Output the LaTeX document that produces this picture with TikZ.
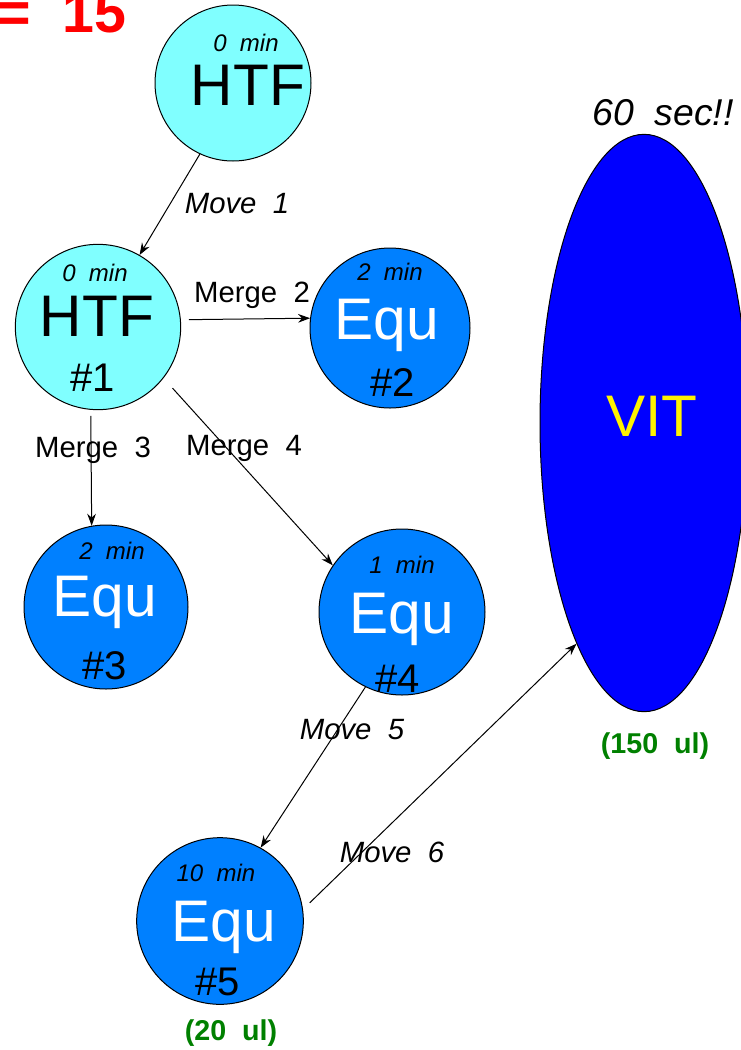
\documentclass[tikz,border=0pt]{standalone}
\usepackage{fontspec}
\setmainfont{Liberation Sans}
\usetikzlibrary{arrows.meta,shapes.geometric}
\definecolor{htfcyan}{RGB}{128,255,255}
\definecolor{equblue}{RGB}{0,128,255}
\definecolor{vitblue}{RGB}{0,0,255}
\definecolor{ulgreen}{RGB}{0,128,0}
\tikzset{
  htfball/.style={circle,draw,line width=0.75pt,fill=htfcyan,inner sep=0pt},
  equball/.style={circle,draw,line width=0.75pt,fill=equblue,inner sep=0pt},
  bigword/.style={anchor=base,inner sep=0pt,font=\fontsize{44pt}{44pt}\selectfont},
  numtag/.style={anchor=base,inner sep=0pt,font=\fontsize{30pt}{30pt}\selectfont},
  mintag/.style={anchor=base,inner sep=0pt,font=\fontsize{18pt}{18pt}\selectfont\itshape},
  steplbl/.style={anchor=base,inner sep=0pt,font=\fontsize{22pt}{22pt}\selectfont},
  movelbl/.style={steplbl,font=\fontsize{22pt}{22pt}\selectfont\itshape},
  vollbl/.style={anchor=base,inner sep=0pt,text=ulgreen,font=\fontsize{21.5pt}{21.5pt}\selectfont\bfseries},
}
\begin{document}
\begin{tikzpicture}[>={Stealth[length=9pt,width=6.5pt]},x=0.75pt,y=-0.75pt,line width=0.75pt]
    \useasboundingbox (0,0) rectangle (740,1050);
    % count, cut by the top edge
    \node[anchor=base west,inner sep=0pt,text=red,font=\fontsize{43pt}{43pt}\selectfont\bfseries] (count) at (-3,32) {=~~15};
    % balls
    \node[htfball,minimum size=117pt] (top) at (233,83) {};
    \node[htfball,minimum size=124pt] (htf1) at (98,327) {};
    \node[equball,minimum size=120pt] (equ2) at (390,328) {};
    \node[equball,minimum size=123pt] (equ3) at (106,607) {};
    \node[equball,minimum size=124.5pt] (equ4) at (402,612) {};
    \node[equball,minimum size=125pt] (equ5) at (220,921) {};
    \node[ellipse,draw,fill=vitblue,minimum width=156pt,minimum height=433pt,inner sep=0pt] (vit) at (644,423) {};
    % texts in the balls
    \node[mintag] (topmin) at (246,51) {0~~min};
    \node[bigword] (topname) at (248,105) {HTF};
    \node[mintag] (htf1min) at (95,281) {0~~min};
    \node[bigword] (htf1name) at (97,336) {HTF};
    \node[numtag] (htf1num) at (93,391) {\#1};
    \node[mintag] (equ2min) at (390,280) {2~~min};
    \node[bigword,text=white] (equ2name) at (387,339) {Equ};
    \node[numtag] (equ2num) at (393,396) {\#2};
    \node[mintag] (equ3min) at (112,559) {2~~min};
    \node[bigword,text=white] (equ3name) at (105,616) {Equ};
    \node[numtag] (equ3num) at (105,679) {\#3};
    \node[mintag] (equ4min) at (402,573) {1~~min};
    \node[bigword,text=white] (equ4name) at (402,633) {Equ};
    \node[numtag] (equ4num) at (398,692) {\#4};
    \node[mintag] (equ5min) at (216,881) {10~~min};
    \node[bigword,text=white] (equ5name) at (224,941) {Equ};
    \node[numtag] (equ5num) at (218,995) {\#5};
    \node[bigword,text=yellow] (vitname) at (652,436) {VIT};
    \node[anchor=base,inner sep=0pt,font=\fontsize{28pt}{28pt}\selectfont\itshape] (vittime) at (663,125) {60~~sec!!};
    \node[vollbl] (vitvol) at (655,753) {(150~~ul)};
    \node[vollbl] (equ5vol) at (231,1040) {(20~~ul)};
    % moves
    \draw[->] (top.245) -- (htf1.60);
    \draw[->,shorten <=6pt] (htf1.5) -- (equ2.173);
    \draw[->,shorten <=4.5pt] (htf1.265) -- (equ3.100);
    \draw[->,shorten <=10pt] (htf1.-38) -- (equ4.146);
    \draw[->] (equ4.244) -- (equ5.61);
    \draw[->,shorten <=7pt] (equ5.8) -- (vit.253);
    \node[movelbl] (move1) at (237,213) {Move~~1};
    \node[steplbl] (merge2) at (252,302) {Merge~~2};
    \node[steplbl] (merge3) at (93,457) {Merge~~3};
    \node[steplbl] (merge4) at (244,455) {Merge~~4};
    \node[movelbl] (move5) at (352,739) {Move~~5};
    \node[movelbl] (move6) at (392,862) {Move~~6};
\end{tikzpicture}
\end{document}
